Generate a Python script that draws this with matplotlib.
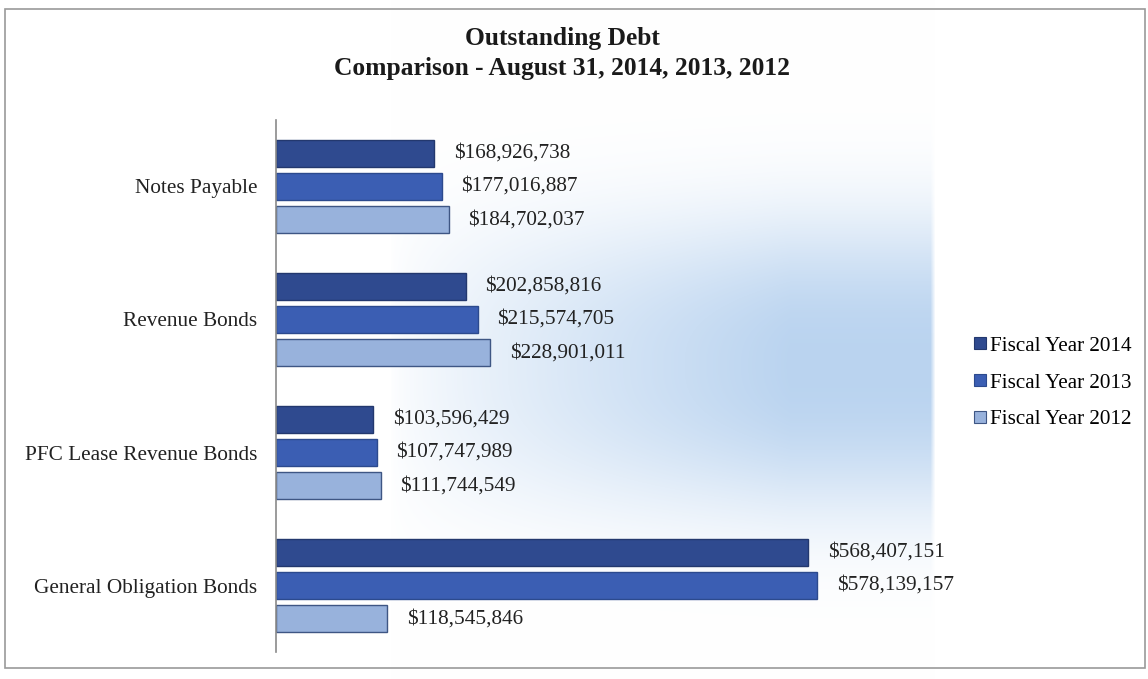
import numpy as np
import matplotlib
matplotlib.use("Agg")
import matplotlib.pyplot as plt
from matplotlib.patches import Patch, Rectangle

plt.rcParams["font.family"] = ["Liberation Serif", "DejaVu Serif"]

categories = ["Notes Payable", "Revenue Bonds", "PFC Lease Revenue Bonds", "General Obligation Bonds"]
series_names = ["Fiscal Year 2014", "Fiscal Year 2013", "Fiscal Year 2012"]
fy2014 = [168926738, 202858816, 103596429, 568407151]
fy2013 = [177016887, 215574705, 107747989, 578139157]
fy2012 = [184702037, 228901011, 111744549, 118545846]

colors = ["#2F4A8F", "#3B5EB3", "#98B2DC"]
edges = ["#23386E", "#2C4A8E", "#3E5684"]

W, H = 1148, 679
fig = plt.figure(figsize=(W / 100, H / 100), dpi=100)

# soft blue haze behind the plot area (pixel space, y down)
bg = fig.add_axes([0, 0, 1, 1], zorder=0)
bg.set_xlim(0, W)
bg.set_ylim(H, 0)
bg.axis("off")
xs = np.arange(W)
ys = np.arange(H)
fx = np.clip((xs - 390) / 400.0, 0, 1)
fx = np.sqrt(fx) * 0.4 + fx * 0.6
fx *= np.clip((935 - xs) / 5.0, 0, 1)
gy = np.exp(-np.abs((ys - 365) / 145.0) ** 2.6)
amount = np.outer(gy, fx)
peak = np.array([0.73, 0.83, 0.94])
img = 1 - amount[..., None] * (1 - peak[None, None, :])
bg.imshow(img, extent=(0, W, H, 0), aspect="auto", interpolation="bilinear")
bg.add_patch(Rectangle((5, 9), 1140, 659, fill=False, edgecolor="#9a9a9a", linewidth=1.2))

ax = fig.add_axes([276 / W, 27 / H, 700 / W, 532 / H], zorder=1)
ax.patch.set_alpha(0)

ypos = np.arange(len(categories))[::-1]
bar_h = 0.2
offsets = [0.25, 0.0, -0.25]
values = [fy2014, fy2013, fy2012]

for vals, off, c, ec, name in zip(values, offsets, colors, edges, series_names):
    ax.barh(ypos + off, vals, height=bar_h, color=c, edgecolor=ec, linewidth=1.0, label=name)
    for y, v in zip(ypos, vals):
        ax.text(v + 21e6, y + off, f"${v:,}", va="center", ha="left", fontsize=15.3, color="#222222")

ax.set_xlim(0, 748e6)
ax.set_ylim(-0.5, 3.5)
ax.set_yticks(ypos)
ax.set_yticklabels(categories, fontsize=15.3, color="#222222")
ax.tick_params(axis="y", length=0, pad=13.5)
ax.set_xticks([])
for side in ["top", "right", "bottom"]:
    ax.spines[side].set_visible(False)
ax.spines["left"].set_color("#8a8a8a")
ax.spines["left"].set_linewidth(1.2)

fig.text(562 / W, 1 - 39 / H, "Outstanding Debt", ha="center", va="center",
         fontsize=18.4, fontweight="bold", color="#1a1a1a")
fig.text(562 / W, 1 - 68 / H, "Comparison - August 31, 2014, 2013, 2012", ha="center", va="center",
         fontsize=18.4, fontweight="bold", color="#1a1a1a")

handles = [Patch(facecolor=c, edgecolor=ec, linewidth=0.8) for c, ec in zip(colors, edges)]
fig.legend(handles, series_names, loc="center left", bbox_to_anchor=(955 / W, 1 - 383 / H),
           frameon=False, fontsize=15.2, handlelength=0.55, handleheight=0.55,
           handletextpad=0.2, labelspacing=0.85)

fig.savefig("out.png", dpi=100)
